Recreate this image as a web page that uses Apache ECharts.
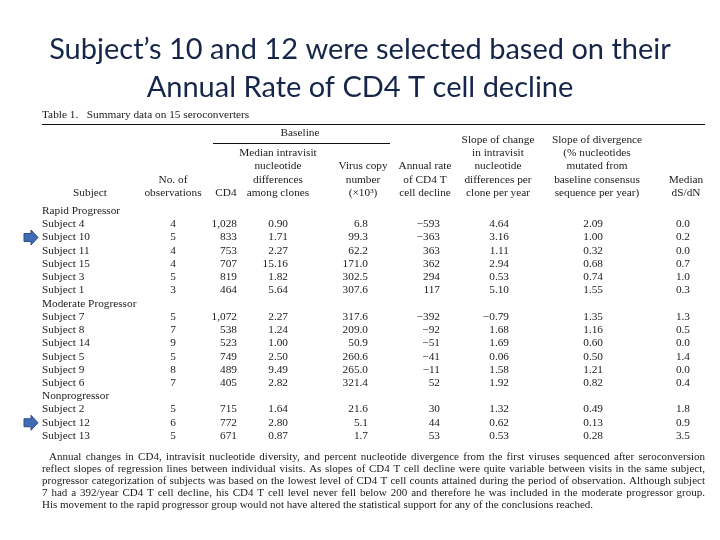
<!DOCTYPE html>
<html>
<head>
<meta charset="utf-8">
<script src="https://cdn.jsdelivr.net/npm/echarts@6/dist/echarts.min.js"></script>
<style>html,body{margin:0;padding:0;background:#fff}#c{width:720px;height:540px}</style>
</head>
<body>
<div id="c"></div>
<script>
// ---------------- DATA ----------------
const titleLines = ["Subject\u2019s 10 and 12 were selected based on their", "Annual Rate of CD4 T cell decline"];
const tableCaption = "Table 1.   Summary data on 15 seroconverters";
const rowLabels = ['Rapid Progressor','Subject 4','Subject 10','Subject 11','Subject 15','Subject 3','Subject 1',
  'Moderate Progressor','Subject 7','Subject 8','Subject 14','Subject 5','Subject 9','Subject 6',
  'Nonprogressor','Subject 2','Subject 12','Subject 13'];
const nObs        = [null,4,5,4,4,5,3, null,5,7,9,5,8,7, null,5,6,5];
const cd4         = [null,1028,833,753,707,819,464, null,1072,538,523,749,489,405, null,715,772,671];
const medianIntra = [null,0.90,1.71,2.27,15.16,1.82,5.64, null,2.27,1.24,1.00,2.50,9.49,2.82, null,1.64,2.80,0.87];
const virusCopy   = [null,6.8,99.3,62.2,171.0,302.5,307.6, null,317.6,209.0,50.9,260.6,265.0,321.4, null,21.6,5.1,1.7];
const annualRate  = [null,-593,-363,363,362,294,117, null,-392,-92,-51,-41,-11,52, null,30,44,53];
const slopeChange = [null,4.64,3.16,1.11,2.94,0.53,5.10, null,-0.79,1.68,1.69,0.06,1.58,1.92, null,1.32,0.62,0.53];
const slopeDiv    = [null,2.09,1.00,0.32,0.68,0.74,1.55, null,1.35,1.16,0.60,0.50,1.21,0.82, null,0.49,0.13,0.28];
const medianDsDn  = [null,0.0,0.2,0.0,0.7,1.0,0.3, null,1.3,0.5,0.0,1.4,0.0,0.4, null,1.8,0.9,3.5];
const highlighted = ['Subject 10','Subject 12'];
const headers = ["Subject", "No. of\nobservations", "CD4", "Median intravisit\nnucleotide\ndifferences\namong clones",
  "Virus copy\nnumber\n(\u00d710\u00b3)", "Annual rate\nof CD4 T\ncell decline",
  "Slope of change\nin intravisit\nnucleotide\ndifferences per\nclone per year",
  "Slope of divergence\n(% nucleotides\nmutated from\nbaseline consensus\nsequence per year)", "Median\ndS/dN"];
const groupHeader = "Baseline";
const footnote = [
  "Annual changes in CD4, intravisit nucleotide diversity, and percent nucleotide divergence from the first viruses sequenced after seroconversion",
  "reflect slopes of regression lines between individual visits. As slopes of CD4 T cell decline were quite variable between visits in the same subject,",
  "progressor categorization of subjects was based on the lowest level of CD4 T cell counts attained during the period of observation. Although subject",
  "7 had a 392/year CD4 T cell decline, his CD4 T cell level never fell below 200 and therefore he was included in the moderate progressor group.",
  "His movement to the rapid progressor group would not have altered the statistical support for any of the conclusions reached."
];

// ---------------- FORMATTERS / LAYOUT ----------------
const minus = s => String(s).replace('-', '\u2212');
const fmtInt = v => minus(v.toLocaleString('en-US'));
const fix = d => v => minus(v.toFixed(d));
const columns = [
  {vals: nObs,        x: 173, align: 'center', fmt: v => String(v)},
  {vals: cd4,         x: 237, align: 'right',  fmt: fmtInt},
  {vals: medianIntra, x: 288, align: 'right',  fmt: fix(2)},
  {vals: virusCopy,   x: 368, align: 'right',  fmt: fix(1)},
  {vals: annualRate,  x: 440, align: 'right',  fmt: fmtInt},
  {vals: slopeChange, x: 509, align: 'right',  fmt: fix(2)},
  {vals: slopeDiv,    x: 603, align: 'right',  fmt: fix(2)},
  {vals: medianDsDn,  x: 690, align: 'right',  fmt: fix(1)}
];
const headerX = [90, 173, 226, 278, 363, 425, 498, 597, 686];
const SERIF = '"Liberation Serif", "DejaVu Serif", serif';
const TXT = '#1a1a1a';
const FS = 11.3;

const chart = echarts.init(document.getElementById('c'), null, {renderer: 'canvas'});

// justify footnote lines using canvas text measurement
const mctx = document.createElement('canvas').getContext('2d');
const footFont = '11px ' + SERIF;
mctx.font = footFont;
const graphics = [];
footnote.forEach((line, li) => {
  const x0 = li === 0 ? 49 : 42, x1 = 705, y = 457 + li * 12;
  const words = line.split(' ');
  const widths = words.map(w => mctx.measureText(w).width);
  const total = widths.reduce((a, b) => a + b, 0);
  const last = li === footnote.length - 1;
  const gap = last ? mctx.measureText(' ').width : (x1 - x0 - total) / (words.length - 1);
  let x = x0;
  words.forEach((w, wi) => {
    graphics.push({type: 'text', x: x, y: y, style: {text: w, font: footFont, fill: TXT, textVerticalAlign: 'middle'}});
    x += widths[wi] + gap;
  });
});

titleLines.forEach((t, i) => graphics.push({
  type: 'text', x: 360, y: 50 + i * 38,
  style: {text: t, font: '29px Lato, "Open Sans", sans-serif', fill: '#16264a', textAlign: 'center', textVerticalAlign: 'middle'}
}));
graphics.push({type: 'text', x: 42, y: 115, style: {text: tableCaption, font: FS + 'px ' + SERIF, fill: TXT, textVerticalAlign: 'middle'}});
graphics.push({type: 'line', shape: {x1: 42, y1: 124.5, x2: 705, y2: 124.5}, style: {stroke: '#111', lineWidth: 1.2}});
graphics.push({type: 'text', x: 300, y: 133, style: {text: groupHeader, font: FS + 'px ' + SERIF, fill: TXT, textAlign: 'center', textVerticalAlign: 'middle'}});
graphics.push({type: 'line', shape: {x1: 213, y1: 143.5, x2: 390, y2: 143.5}, style: {stroke: '#111', lineWidth: 1}});
headers.forEach((h, i) => graphics.push({
  type: 'text', x: headerX[i], y: 199.5,
  style: {text: h, font: FS + 'px ' + SERIF, fill: TXT, textAlign: 'center', textVerticalAlign: 'bottom', lineHeight: 13.3}
}));

const option = {
  animation: false,
  backgroundColor: '#ffffff',
  grid: {left: 0, right: 0, top: 204.4, bottom: 97.4},
  xAxis: {type: 'value', min: 0, max: 720, show: false},
  yAxis: {type: 'category', data: rowLabels, inverse: true, show: false},
  graphic: graphics,
  series: [{
    type: 'custom',
    encode: {x: 0, y: 1},
    data: rowLabels.map((l, i) => [0, i]),
    renderItem: function (params, api) {
      const i = api.value(1);
      const y = api.coord([0, i])[1];
      const children = [];
      children.push({type: 'text', x: api.coord([42, i])[0], y: y,
        style: {text: rowLabels[i], font: FS + 'px ' + SERIF, fill: TXT, textVerticalAlign: 'middle'}});
      columns.forEach(c => {
        const v = c.vals[i];
        if (v === null || v === undefined) return;
        children.push({type: 'text', x: api.coord([c.x, i])[0], y: y,
          style: {text: c.fmt(v), font: FS + 'px ' + SERIF, fill: TXT, textAlign: c.align, textVerticalAlign: 'middle'}});
      });
      if (highlighted.indexOf(rowLabels[i]) >= 0) {
        const ax = api.coord([24, i])[0];
        children.push({type: 'polygon',
          shape: {points: [[ax, y - 4], [ax + 7, y - 4], [ax + 7, y - 7.5], [ax + 14, y], [ax + 7, y + 7.5], [ax + 7, y + 4], [ax, y + 4]]},
          style: {fill: '#3e6bb3', stroke: '#2c4f86', lineWidth: 1}});
      }
      return {type: 'group', children: children};
    }
  }]
};
chart.setOption(option);
</script>
</body>
</html>
